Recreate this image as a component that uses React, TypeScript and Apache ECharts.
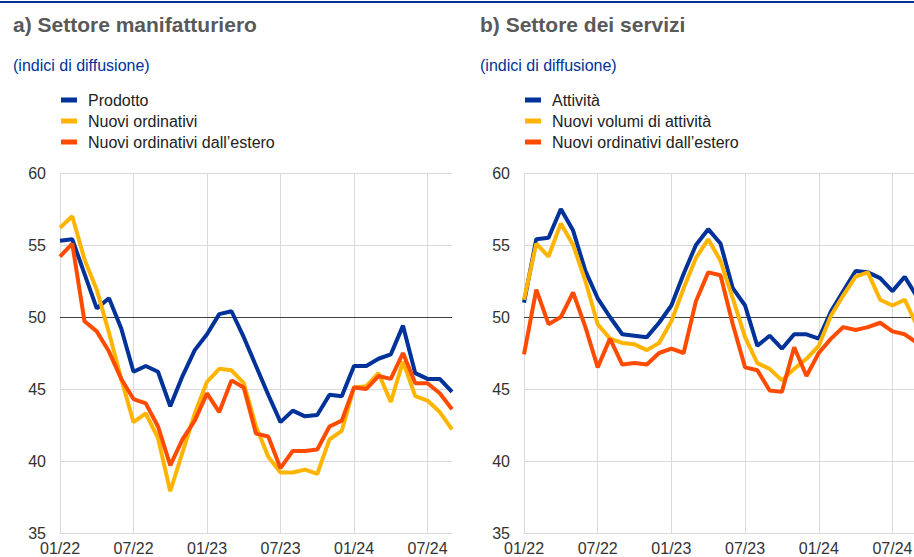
import React, { useEffect, useRef } from "react";
import * as echarts from "echarts";

const months = [
  "01/22", "02/22", "03/22", "04/22", "05/22", "06/22", "07/22", "08/22", "09/22", "10/22", "11/22", "12/22",
  "01/23", "02/23", "03/23", "04/23", "05/23", "06/23", "07/23", "08/23", "09/23", "10/23", "11/23", "12/23",
  "01/24", "02/24", "03/24", "04/24", "05/24", "06/24", "07/24", "08/24", "09/24",
];

const manuProdotto = [55.3, 55.4, 53.0, 50.6, 51.3, 49.2, 46.2, 46.6, 46.2, 43.8, 45.9, 47.7, 48.8, 50.2, 50.4, 48.6, 46.6, 44.6, 42.7, 43.5, 43.1, 43.2, 44.6, 44.5, 46.6, 46.6, 47.1, 47.4, 49.4, 46.1, 45.7, 45.7, 44.8];
const manuOrdinativi = [56.2, 57.0, 54.0, 51.9, 48.9, 45.7, 42.7, 43.3, 41.6, 37.9, 40.6, 43.3, 45.5, 46.4, 46.3, 45.4, 42.4, 40.3, 39.2, 39.2, 39.4, 39.1, 41.5, 42.1, 45.1, 45.2, 46.1, 44.1, 46.9, 44.5, 44.2, 43.4, 42.2];
const manuEstero = [54.2, 55.1, 49.7, 49.0, 47.6, 45.7, 44.3, 44.0, 42.4, 39.7, 41.5, 42.8, 44.7, 43.4, 45.6, 45.1, 41.9, 41.7, 39.5, 40.7, 40.7, 40.8, 42.4, 42.8, 45.1, 45.0, 45.9, 45.7, 47.5, 45.4, 45.4, 44.7, 43.6];

const servAttivita = [51.0, 55.4, 55.5, 57.5, 56.0, 53.2, 51.3, 50.0, 48.8, 48.7, 48.6, 49.6, 50.8, 53.0, 55.0, 56.1, 55.1, 52.0, 50.8, 48.0, 48.7, 47.8, 48.8, 48.8, 48.5, 50.4, 51.8, 53.2, 53.1, 52.7, 51.8, 52.8, 51.4];
const servVolumi = [51.2, 55.1, 54.2, 56.5, 55.0, 52.5, 49.5, 48.5, 48.2, 48.1, 47.7, 48.2, 49.7, 52.0, 54.1, 55.4, 53.9, 51.3, 48.6, 46.8, 46.4, 45.6, 46.4, 47.1, 48.0, 50.1, 51.5, 52.8, 53.1, 51.2, 50.8, 51.2, 49.4];
const servEstero = [47.4, 51.9, 49.5, 50.0, 51.7, 49.3, 46.5, 48.5, 46.7, 46.8, 46.7, 47.5, 47.8, 47.5, 51.1, 53.1, 52.9, 49.5, 46.5, 46.3, 44.9, 44.8, 47.9, 45.9, 47.5, 48.5, 49.3, 49.1, 49.3, 49.6, 49.0, 48.8, 48.2];

const manuNames = ["Prodotto", "Nuovi ordinativi", "Nuovi ordinativi dall\u2019estero"];
const servNames = ["Attività", "Nuovi volumi di attività", "Nuovi ordinativi dall\u2019estero"];
const panelTitles = ["a) Settore manifatturiero", "b) Settore dei servizi"];
const unitLabel = "(indici di diffusione)";

const BLUE = "#003299";
const YELLOW = "#FFB400";
const ORANGE = "#FF4B00";
const GRID = "#d9d9d9";
const FONT = "'Liberation Sans', Arial, sans-serif";

export default function App() {
  const ref = useRef<HTMLDivElement>(null);

  useEffect(() => {
    if (!ref.current) return;
    const chart = echarts.init(ref.current, undefined, { renderer: "svg" });

    const panelLeft = [60, 524];
    const panelWidth = [392, 393];
    const titleX = [13, 480];
    const legendLeft = [61, 525];
    const colors = [BLUE, YELLOW, ORANGE];

    const makeSeries = (names: string[], data: number[][], idx: number) =>
      names.map((n, k) => ({
        name: n,
        type: "line",
        xAxisIndex: idx,
        yAxisIndex: idx,
        data: data[k],
        symbol: "none",
        lineStyle: { color: colors[k], width: 4 },
        itemStyle: { color: colors[k] },
        z: 3 + k,
        ...(k === 0
          ? {
              markLine: {
                silent: true,
                symbol: "none",
                label: { show: false },
                lineStyle: { color: "#404040", width: 1, type: "solid" },
                data: [{ yAxis: 50 }],
                z: 2,
              },
            }
          : {}),
      }));

    const option: any = {
      animation: false,
      textStyle: { fontFamily: FONT },
      graphic: [
        { type: "rect", shape: { x: 0, y: 1, width: 930, height: 2 }, style: { fill: BLUE } },
        ...[0, 1].map((i) => ({
          type: "text",
          x: titleX[i],
          y: 24.5,
          style: {
            text: panelTitles[i],
            font: `bold 21px ${FONT}`,
            fill: "#595959",
            verticalAlign: "middle",
          },
        })),
        ...[0, 1].map((i) => ({
          type: "text",
          x: titleX[i],
          y: 65,
          style: {
            text: unitLabel,
            font: `16px ${FONT}`,
            fill: BLUE,
            verticalAlign: "middle",
          },
        })),
      ],
      legend: [manuNames, servNames].map((names, i) => ({
        left: legendLeft[i],
        top: 92,
        orient: "vertical",
        icon: "rect",
        itemWidth: 16,
        itemHeight: 5,
        itemGap: 5,
        padding: 0,
        selectedMode: false,
        textStyle: { fontSize: 16, color: "#222", fontFamily: FONT, padding: [0, 0, 0, 6] },
        data: names.map((n, k) => ({ name: n, itemStyle: { color: colors[k] } })),
      })),
      grid: [0, 1].map((i) => ({
        left: panelLeft[i],
        top: 173,
        width: panelWidth[i],
        height: 360,
      })),
      xAxis: [0, 1].map((i) => ({
        type: "category",
        gridIndex: i,
        data: months,
        boundaryGap: false,
        axisTick: { show: false },
        axisLine: { show: true, lineStyle: { color: GRID, width: 1 } },
        axisLabel: { interval: 5, fontSize: 16, color: "#333", margin: 7, fontFamily: FONT },
        splitLine: { show: true, interval: 5, lineStyle: { color: GRID, width: 1 } },
      })),
      yAxis: [0, 1].map((i) => ({
        type: "value",
        gridIndex: i,
        min: 35,
        max: 60,
        interval: 5,
        axisLine: { show: false },
        axisTick: { show: false },
        axisLabel: { fontSize: 16, color: "#333", margin: 14, fontFamily: FONT },
        splitLine: { show: true, lineStyle: { color: GRID, width: 1 } },
      })),
      series: [
        ...makeSeries(manuNames, [manuProdotto, manuOrdinativi, manuEstero], 0),
        ...makeSeries(servNames, [servAttivita, servVolumi, servEstero], 1),
      ],
    };

    chart.setOption(option);
    return () => chart.dispose();
  }, []);

  return (
    <div
      style={{
        position: "fixed",
        left: 0,
        top: 0,
        width: 914,
        height: 557,
        overflow: "hidden",
        background: "#fff",
      }}
    >
      <div ref={ref} style={{ width: 930, height: 557 }} />
    </div>
  );
}
